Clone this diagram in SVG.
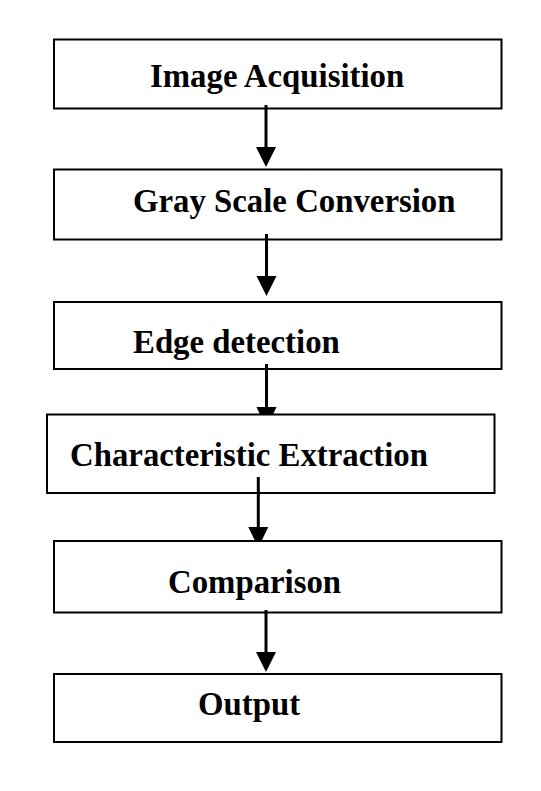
<svg xmlns="http://www.w3.org/2000/svg" width="541" height="791" viewBox="0 0 541 791">
  <defs>
    <style>
      .box { fill: #ffffff; stroke: #000000; stroke-width: 2; }
      .lbl { font-family: "Liberation Serif", "Times New Roman", serif; font-weight: bold; font-size: 32.8px; fill: #000000; }
      .line { stroke: #000000; stroke-width: 3; fill: none; }
      .head { fill: #000000; stroke: none; }
    </style>
  </defs>
  <rect width="541" height="791" fill="#ffffff"/>
  <g id="node-image-acquisition">
    <rect class="box" x="54" y="39.5" width="447.5" height="69"/>
    <text class="lbl" x="150" y="86.7">Image Acquisition</text>
  </g>
  <g id="node-gray-scale-conversion">
    <rect class="box" x="54" y="169.5" width="447.5" height="70"/>
    <text class="lbl" x="133" y="211.7">Gray Scale Conversion</text>
  </g>
  <g id="node-edge-detection">
    <rect class="box" x="54" y="302" width="447.5" height="67"/>
    <text class="lbl" x="133" y="352.7">Edge detection</text>
  </g>
  <g id="node-characteristic-extraction">
    <rect class="box" x="47" y="414.5" width="447.5" height="78.5"/>
    <text class="lbl" x="70" y="465.7">Characteristic Extraction</text>
  </g>
  <g id="node-comparison">
    <rect class="box" x="54" y="541" width="447.5" height="71.5"/>
    <text class="lbl" x="168" y="593">Comparison</text>
  </g>
  <g id="node-output">
    <rect class="box" x="54" y="674" width="447.5" height="68"/>
    <text class="lbl" x="198" y="715">Output</text>
  </g>
  <g id="connectors">
    <line class="line" x1="266" y1="105" x2="266" y2="149"/>
    <path class="head" d="M256,147 L276,147 L266,167 Z"/>
    <line class="line" x1="266.5" y1="234" x2="266.5" y2="278"/>
    <path class="head" d="M256.5,276 L276.5,276 L266.5,296 Z"/>
    <line class="line" x1="266.5" y1="364" x2="266.5" y2="409"/>
    <path class="head" d="M256.5,407 L276.5,407 L273,414.5 L260,414.5 Z"/>
    <line class="line" x1="258.3" y1="477" x2="258.3" y2="529"/>
    <path class="head" d="M248.3,527 L268.3,527 L261.5,541 L255.1,541 Z"/>
    <line class="line" x1="266" y1="610" x2="266" y2="654"/>
    <path class="head" d="M256,652 L276,652 L266,672 Z"/>
  </g>
</svg>
